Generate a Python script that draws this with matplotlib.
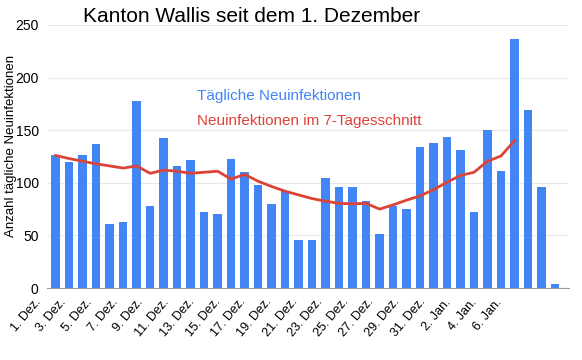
import matplotlib.pyplot as plt
import matplotlib.transforms as mtransforms
import numpy as np

plt.rcParams['font.family'] = ['Liberation Sans', 'DejaVu Sans']

# Tage 1. Dez. bis 7. Jan.
days = [f"{d}. Dez." for d in range(1, 32)] + [f"{d}. Jan." for d in range(1, 8)]

# tägliche Neuinfektionen
daily = [126, 120, 126, 137, 61, 63, 178, 78, 143, 116,
         122, 72, 70, 123, 110, 98, 80, 92, 46, 46,
         105, 96, 96, 83, 51, 78, 75, 134, 138, 144,
         131, 72, 150, 111, 237, 169, 96, 4]

# 7-Tagesschnitt (endet am 4. Jan.)
avg7 = [126, 123, 120.5, 118, 116, 114, 116, 109, 112, 111,
        109, 110, 111, 103.5, 108, 101.5, 96.5, 92, 88.5, 85,
        82.5, 80.5, 80, 80.5, 75, 79, 83.5, 87.5, 93.5, 100.5,
        107, 110, 120.5, 125.5, 140]

blue = '#4285f4'
red = '#db4437'

fig = plt.figure(figsize=(5.82, 3.6), dpi=100)
ax = fig.add_axes([47 / 582, 72 / 360, 522 / 582, 263 / 360])

x = np.arange(len(daily))
ax.bar(x, daily, width=0.63, color=blue, zorder=2)
ax.plot(np.arange(len(avg7)), avg7, color=red, linewidth=2, zorder=3)

ax.set_xlim(-0.645, 38.04)
ax.set_ylim(0, 250)
ax.set_yticks(range(0, 251, 50))
ax.set_xticks([])
ax.tick_params(axis='y', labelsize=10, length=0, pad=6)

# wie im Original: schräge Beschriftungen enger gesetzt als die Balken
labels = days[::2]
lab_tr = ax.get_xaxis_transform() + mtransforms.ScaledTranslation(0, -0.08, fig.dpi_scale_trans)
for xp, lab in zip(np.linspace(-1.6, 32.6, len(labels)), labels):
    ax.text(xp, 0, lab, transform=lab_tr, rotation=50, ha='right', va='top',
            rotation_mode='anchor', fontsize=9, clip_on=False)

ax.grid(axis='y', color='#e8e8e8', linewidth=0.8, zorder=0)
ax.set_axisbelow(True)
for s in ['top', 'right', 'left']:
    ax.spines[s].set_visible(False)
ax.spines['bottom'].set_color('#9e9e9e')

fig.text(252 / 582, 1 - 16 / 360, "Kanton Wallis seit dem 1. Dezember",
         ha='center', va='center', fontsize=15)
fig.text(11 / 582, 1 - 146 / 360, "Anzahl tägliche Neuinfektionen",
         rotation=90, ha='center', va='center', fontsize=9.5)

ax.text(197 / 582, 1 - 96 / 360, "Tägliche Neuinfektionen", color=blue,
        fontsize=11, ha='left', va='center', transform=fig.transFigure)
ax.text(197 / 582, 1 - 121 / 360, "Neuinfektionen im 7-Tagesschnitt", color=red,
        fontsize=11, ha='left', va='center', transform=fig.transFigure)

fig.savefig('out.png', dpi=100)
